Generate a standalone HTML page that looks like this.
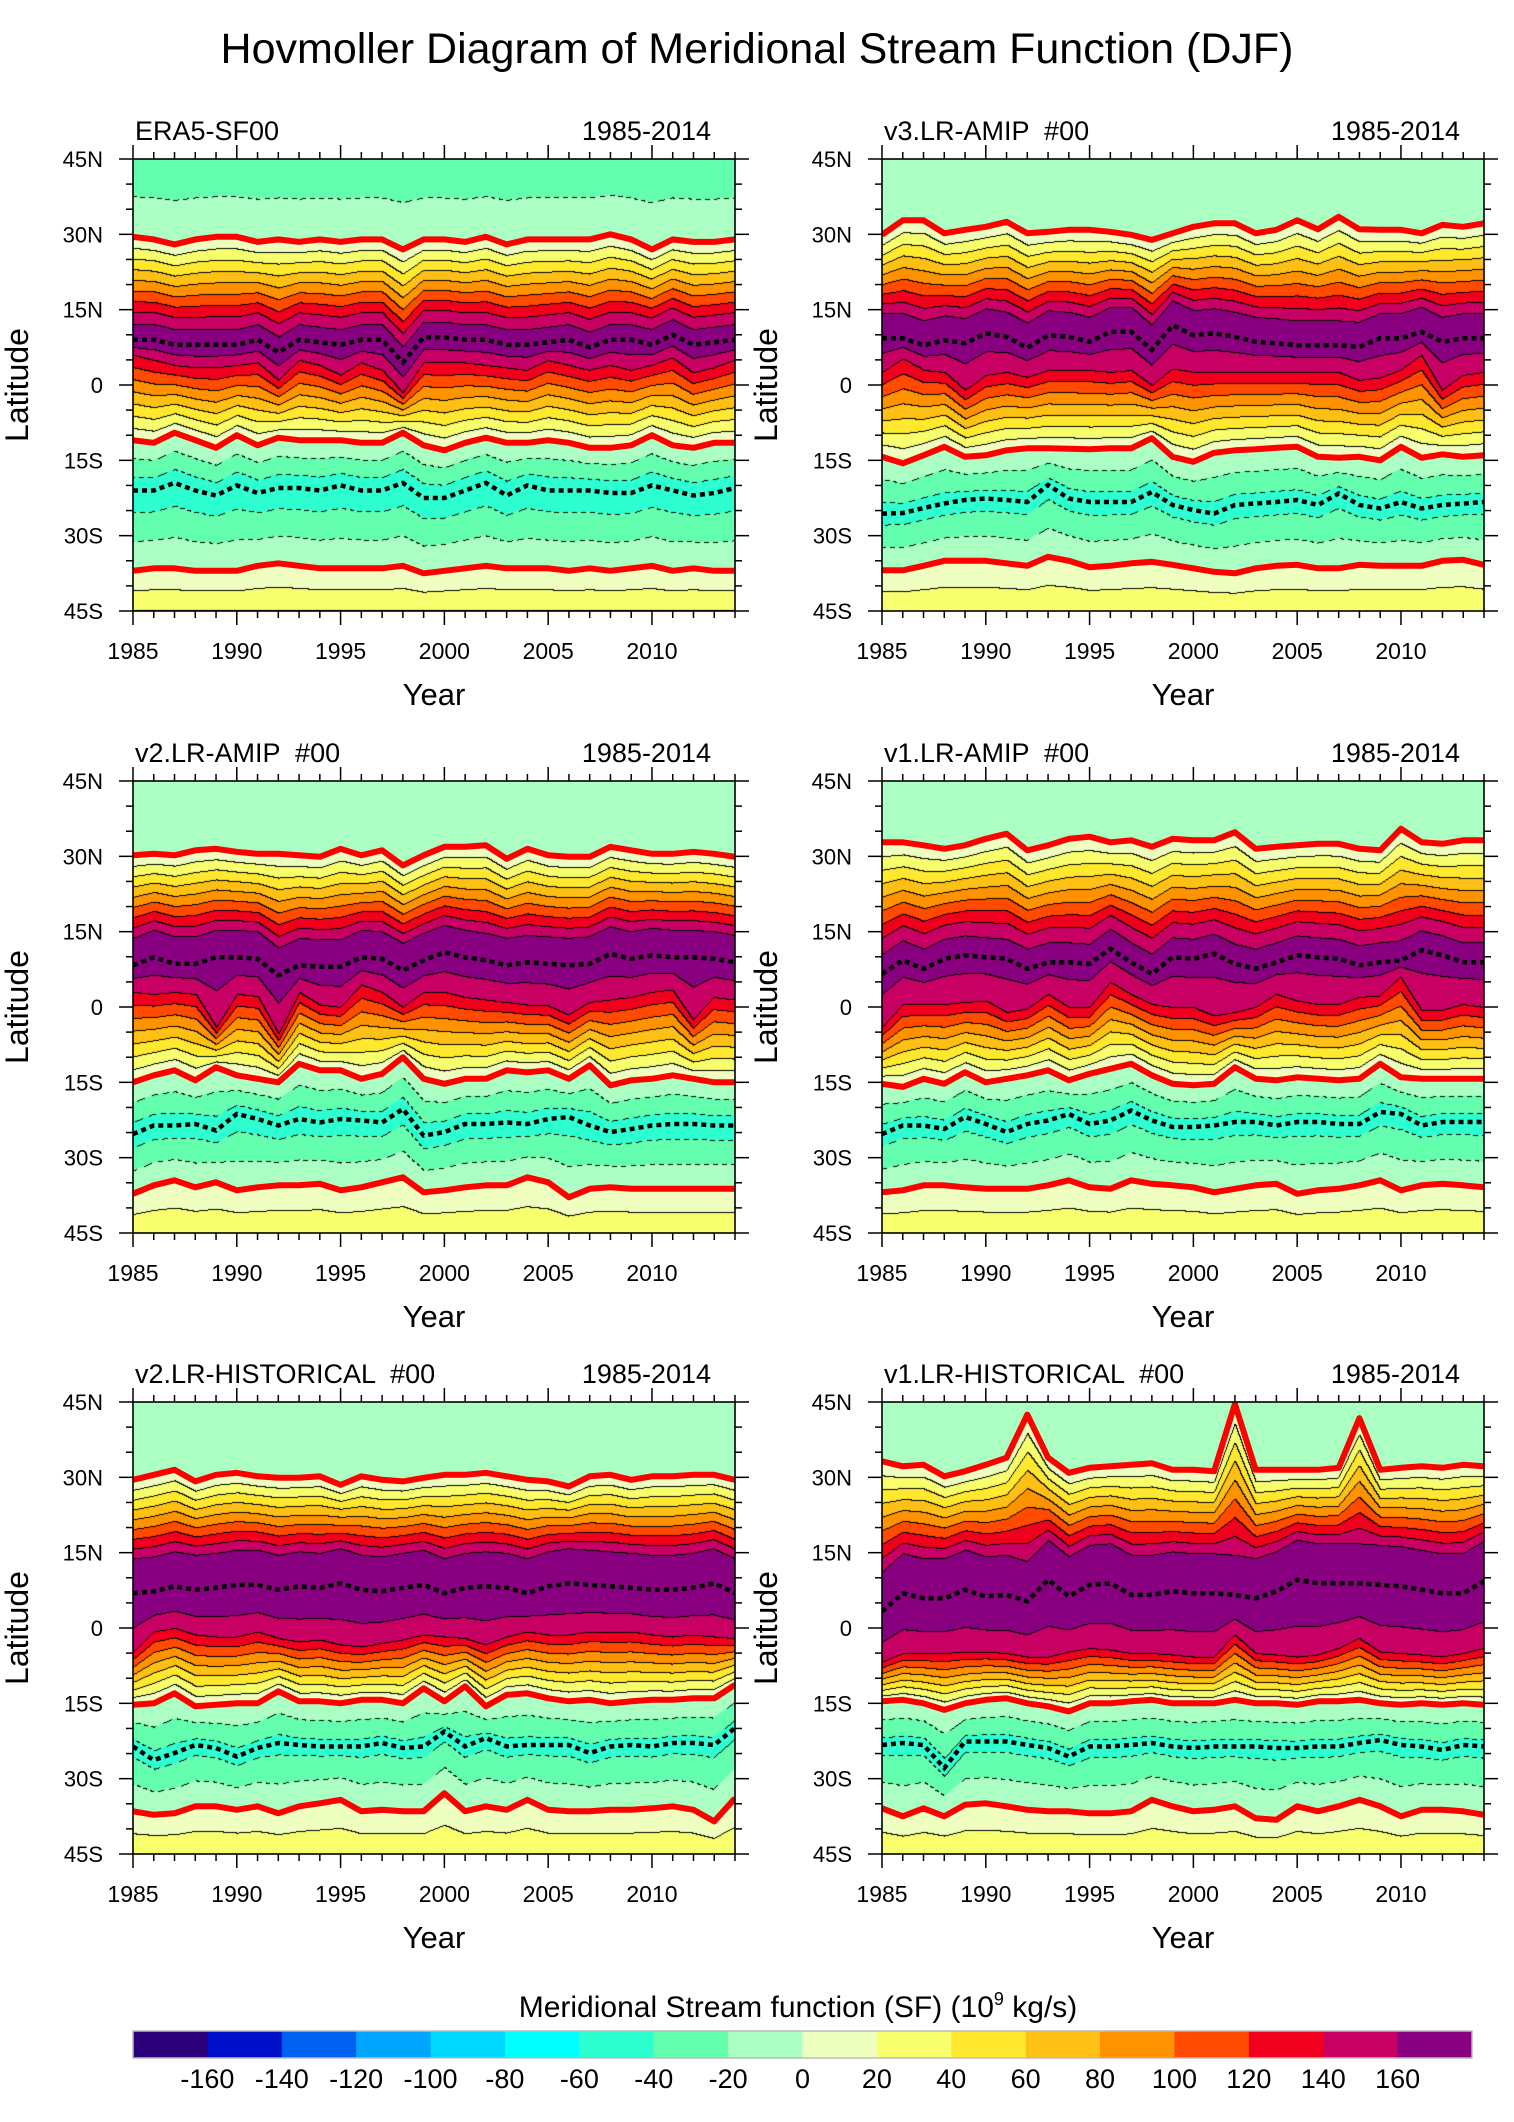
<!DOCTYPE html>
<html><head><meta charset="utf-8">
<style>
html,body{margin:0;padding:0;background:#fff;}
body{width:1514px;height:2122px;position:relative;overflow:hidden;font-family:"Liberation Sans",Arial,sans-serif;}
canvas{position:absolute;}
#ov{position:absolute;left:0;top:0;}
text{white-space:pre;}
</style></head>
<body>
<svg id="ov" width="1514" height="2122" xmlns="http://www.w3.org/2000/svg">
<text x="757" y="63" font-size="43" text-anchor="middle" font-family="Liberation Sans, sans-serif">Hovmoller Diagram of Meridional Stream Function (DJF)</text>
</svg>
<script>
// ---------- data ----------
const YEARS = [1985,1986,1987,1988,1989,1990,1991,1992,1993,1994,1995,1996,1997,1998,1999,2000,2001,2002,2003,2004,2005,2006,2007,2008,2009,2010,2011,2012,2013,2014];
const LEVEL_LABELS = [-160,-140,-120,-100,-80,-60,-40,-20,0,20,40,60,80,100,120,140,160];
const LAT_TICKS = [45,30,15,0,-15,-30,-45];
const LAT_TICK_LABELS = ["45N","30N","15N","0","15S","30S","45S"];
const YEAR_TICK_LABELS = [1985,1990,1995,2000,2005,2010];

// ERA5
const ERA5_NH0 = [29.5,29,28,29,29.5,29.5,28.5,29,28.5,29,28.5,29,29,27,29,29,28.5,29.5,28,29,29,29,29,30,29,27,29,28.5,28.5,29];
const ERA5_PMAX = [9,9,8,8,8,8,9,6.5,9,8.5,8,9,9,4.5,9.5,9.5,9,9,8,8,8.5,9,7.5,9,9,8,10,8,8.5,9];
const ERA5_S140 = [6,5,4,3.5,3.5,4,4.5,1,5,4,2,4.5,3,-1.5,4.5,4.5,4.5,4,3.5,3,5,4,3,4,3,4,5.5,2.5,3.5,5];
const ERA5_SH0 = [-11,-11.5,-9.5,-11,-12.5,-10,-12,-10.5,-11,-11,-11,-11.5,-11.5,-9.5,-12,-13,-11.5,-10.5,-11.5,-11.5,-11,-11.5,-12.5,-12.5,-12,-10,-12,-12.5,-11.5,-11.5];
const ERA5_PMIN = [-21,-21,-19.5,-21,-22,-20,-21.5,-20.5,-20.5,-21,-20,-21,-21,-19.5,-22.5,-22.5,-21,-19.5,-22,-20,-21,-21,-21,-21.5,-21.5,-20,-21,-22,-21.5,-20.5];
const ERA5_S0 = [-37,-36.5,-36.5,-37,-37,-37,-36,-35.5,-36,-36.5,-36.5,-36.5,-36.5,-36,-37.5,-37,-36.5,-36,-36.5,-36.5,-36.5,-37,-36.5,-37,-36.5,-36,-37,-36.5,-37,-37];
// v3 AMIP
const V3A_NH0 = [29.9,32.8,32.8,30.2,30.9,31.5,32.5,30.2,30.5,30.9,30.9,30.5,29.9,28.9,30.2,31.5,32.2,32.2,30.2,30.9,32.8,31,33.5,31,30.9,30.9,30.2,31.9,31.5,32.2];
const V3A_PMAX = [9.3,9.3,7.9,8.9,8.3,10.3,9.6,7.4,9.9,9.6,8.6,10.6,10.6,7,11.9,9.9,10.3,9.6,8.6,8.3,7.9,7.9,7.9,7.6,9.3,9.3,10.6,8.6,9.3,9.3];
const V3A_S140 = [2.6,5.3,3,2.6,-1,2,2.6,1.6,3,3,3,2.6,3,0,3.3,2.6,2.6,2.6,2.6,2.6,2.6,2.6,2.6,1,1.5,3,6,-1,2,2.6];
const V3A_SH0 = [-14.3,-15.6,-14,-12.3,-14.3,-14,-13,-12.6,-12.6,-12.7,-12.8,-12.6,-12.6,-10.6,-14.3,-15.3,-13.5,-13,-12.8,-12.5,-12.3,-14.3,-14.5,-14.3,-15,-12.3,-14.5,-13.8,-14.3,-14];
const V3A_PMIN = [-25.6,-25.5,-24.5,-23.6,-22.9,-22.6,-22.9,-23.3,-19.9,-22.6,-23.3,-23.3,-23.3,-21.3,-23.9,-24.9,-25.6,-23.9,-23.6,-23.3,-22.9,-23.9,-21.6,-23.9,-24.6,-23.3,-24.6,-23.9,-23.6,-23.3];
const V3A_S0 = [-36.9,-36.9,-36,-35,-35,-35,-35.5,-36,-34.2,-35,-36.3,-36,-35.5,-35.2,-35.8,-36.5,-37.2,-37.5,-36.5,-36,-35.8,-36.5,-36.5,-35.8,-36,-36,-36,-35,-34.8,-35.8];
// v2 AMIP
const V2A_NH0 = [30.2,30.5,30.2,31.2,31.5,30.9,30.5,30.5,30.2,29.9,31.5,30.2,31.2,28.2,30.2,31.9,31.9,32.2,29.5,31.5,30.2,29.9,29.9,31.9,31.2,30.5,30.5,30.9,30.5,29.9];
const V2A_PMAX = [8.3,9.9,8.6,8.6,9.9,9.9,9.6,6.3,8.3,8,8,9.9,9.6,7.3,9.3,10.9,9.9,9.3,8.3,8.9,8.6,8.3,8.6,10.6,9.6,10.3,9.9,9.9,9.6,8.9];
const V2A_S140 = [3,2.6,3,2.6,-4,2.6,2.2,-5.3,3,0.5,0,4.5,3,0,3,3,2,1.5,1,0.5,0.3,-1.5,1,1.5,2,3,3.5,-2.5,2,1.5];
const V2A_SH0 = [-15,-13.6,-12.6,-14.6,-12,-13.6,-14.3,-15,-11.3,-12.6,-12.6,-14.3,-13.3,-10,-14.3,-15.3,-14.3,-14.3,-12.6,-13,-12.6,-14.3,-11.6,-15.6,-14.6,-14.3,-13.6,-14.3,-15,-15];
const V2A_PMIN = [-25.3,-23.6,-23.6,-23.3,-24.6,-21.3,-22.3,-23.6,-22.3,-23,-22.3,-22.6,-23,-20.3,-25.6,-24.9,-23.3,-23.3,-23,-23.3,-22.3,-21.9,-23.6,-24.9,-24.3,-23.6,-23.3,-23.3,-23.6,-23.6];
const V2A_S0 = [-37.2,-35.5,-34.5,-35.9,-34.9,-36.5,-35.9,-35.5,-35.5,-35.2,-36.5,-35.9,-34.9,-33.9,-36.9,-36.5,-35.9,-35.5,-35.5,-33.9,-34.9,-37.9,-36.2,-35.9,-36.2,-36.2,-36.2,-36.2,-36.2,-36.2];
// v1 AMIP
const V1A_NH0 = [32.8,32.8,32.2,31.5,32.2,33.5,34.5,31.2,32.2,33.5,33.9,32.8,33.2,31.9,33.5,33.2,33.2,34.8,31.5,31.9,32.2,32.5,32.5,31.5,31.2,35.5,32.8,32.5,33.2,33.2];
const V1A_PMAX = [6.6,9.3,7.6,9.6,10.3,9.9,9.6,7.6,8.9,8.9,8.6,11.6,8.9,6.6,9.9,9.6,10.6,8.6,7.6,8.9,10.3,9.9,9.6,8.3,8.9,9.3,11.3,10.3,8.9,8.9];
const V1A_S140 = [-4,0.6,0.6,0.6,1,1.3,-1,-0.3,2.6,0,0,5,2.6,0.6,0,0,-1.7,-1,0,2.6,1.3,0.6,0.6,2,2.3,6,-0.6,-0.6,0.6,0];
const V1A_SH0 = [-15.3,-15.9,-14.3,-15.3,-13,-15,-14.3,-13.6,-12.6,-14.6,-13.3,-12.3,-11.3,-13.6,-15.3,-15.6,-15.3,-12,-14.3,-14.6,-14,-14.3,-14.6,-14.3,-11.3,-14,-14.3,-14.3,-14.3,-14.3];
const V1A_PMIN = [-25.3,-23.6,-23.6,-24.3,-21.9,-23.3,-24.9,-23.3,-22.6,-21.3,-23.3,-22.6,-20.6,-22.6,-23.9,-23.9,-23.6,-22.9,-22.9,-23.6,-22.9,-22.9,-23.3,-23.3,-20.9,-21.3,-23.6,-22.9,-22.9,-22.9];
const V1A_S0 = [-36.9,-36.5,-35.5,-35.5,-35.9,-36.2,-36.2,-36.2,-35.5,-34.5,-35.9,-36.2,-34.5,-35.2,-35.5,-35.9,-36.9,-36.2,-35.5,-35.2,-37.2,-36.5,-36.2,-35.5,-34.5,-36.5,-35.5,-35.2,-35.5,-35.9];
// v2 HISTORICAL
const V2H_NH0 = [29.5,30.5,31.5,29.2,30.5,30.9,30.2,29.9,29.9,30.2,28.5,30.2,29.5,29.2,29.9,30.5,30.5,30.9,30.2,29.5,29.2,28.2,30.2,30.5,29.5,30.2,30.2,30.5,30.5,29.5];
const V2H_PMAX = [6.9,7.3,8.3,7.6,8,8.6,8.6,7.6,8.3,8,8.9,7.6,7.3,8,8.6,6.9,8,8.3,8,6.9,8.3,8.9,8.6,8.3,8,7.6,7.6,8,8.9,6.9];
const V2H_S140 = [-4.7,-0.7,0,-1.3,-1.7,-1.7,-0.7,-2,-2.7,-2.3,-3.3,-3.7,-3,-2.3,-1.3,-1.7,-2,-3.3,-1.7,-0.7,-1.3,-1.3,-0.7,-0.7,-0.7,-1.3,-1.7,-1.3,-1.7,-2];
const V2H_SH0 = [-15.3,-15,-13,-15.6,-15.3,-15,-15,-12.6,-14.6,-14.6,-15,-14.3,-14.3,-15,-12,-14.6,-11.6,-15.6,-13.3,-13,-14,-14.6,-14.3,-15,-14.6,-14.3,-14.3,-14,-14,-11.3];
const V2H_PMIN = [-23.6,-26.3,-24.9,-23.3,-23.9,-25.6,-23.9,-22.9,-23.3,-23.6,-23.6,-23.6,-22.9,-23.9,-23.6,-20.6,-23.6,-21.9,-23.6,-23.3,-23.3,-23.3,-24.9,-23.6,-23.3,-23.6,-22.9,-22.9,-23.3,-19.9];
const V2H_S0 = [-36.5,-37.2,-36.9,-35.5,-35.5,-36.2,-35.5,-36.9,-35.5,-34.9,-34.2,-36.5,-36.2,-36.5,-36.5,-32.9,-36.5,-35.5,-36.2,-34.2,-36.2,-36.5,-36.5,-36.2,-36.2,-35.9,-35.5,-36.2,-38.5,-33.9];
// v1 HISTORICAL
const V1H_NH0 = [33.2,32.2,32.5,30.2,31.2,32.5,33.9,42.5,33.9,30.9,31.9,32.2,32.5,32.8,31.5,31.5,31.2,44.6,31.5,31.5,31.5,31.5,31.9,41.8,31.5,31.9,32.2,31.9,32.5,32.2];
const V1H_PMAX = [3.3,6.9,5.9,5.9,7.6,6.3,6.6,5.3,9.6,6.3,8.6,8.9,6.6,6.6,7.3,6.9,6.9,6.6,5.9,7.3,9.6,8.9,8.9,8.9,8.6,8.3,7.6,6.9,6.9,9.3];
const V1H_S140 = [-6.7,-5,-5,-5,-4.7,-4.7,-5,-5.7,-5.7,-4.7,-4,-4.3,-5,-5,-5.3,-5.7,-5.7,-1.3,-5,-5.3,-5.7,-5.3,-4,-2,-4.7,-5,-5.3,-5.7,-5,-4];
const V1H_SH0 = [-14.6,-14.3,-15,-16.3,-15,-14.3,-14,-15,-15.6,-16.6,-15,-15,-14.6,-14.3,-15,-15,-15,-14.3,-15,-15,-15.3,-14.6,-14.6,-14.3,-15,-15.3,-15,-15.3,-15,-15.3];
const V1H_PMIN = [-23.3,-22.9,-23.3,-27.9,-22.6,-22.6,-22.6,-23.3,-23.9,-25.6,-23.6,-23.6,-23.3,-22.9,-23.6,-23.9,-23.6,-23.6,-23.6,-23.9,-23.9,-23.6,-23.6,-22.9,-22.3,-23.3,-23.6,-24.3,-23.3,-23.6];
const V1H_S0 = [-35.9,-37.5,-35.9,-37.5,-35.2,-34.9,-35.5,-36.2,-36.5,-36.5,-36.9,-36.9,-36.5,-34.2,-35.5,-36.5,-36.2,-35.5,-37.9,-38.2,-35.5,-36.5,-35.5,-34.2,-35.5,-37.5,-36.2,-36.2,-36.5,-37.2];

const COLORS = ["#2c0078","#0010c8","#0060f0","#00a5ff","#00d8ff","#00ffff","#2dffd0","#64ffae","#abffc3","#efffc0","#f8ff6c","#ffe82e","#ffc015","#ff9200","#ff4a00","#f0001c","#c80064","#880080"];

const PANELS = [
 {key:'era5',title:'ERA5-SF00',col:0,row:0,nh0:ERA5_NH0,pmax:ERA5_PMAX,s140:ERA5_S140,sh0:ERA5_SH0,pmin:ERA5_PMIN,s0:ERA5_S0,vTop:-38,vMax:178,vUp:155,dUp:4,vMin:-55,vBot:40},
 {key:'v3-amip',title:'v3.LR-AMIP  #00',col:1,row:0,nh0:V3A_NH0,pmax:V3A_PMAX,s140:V3A_S140,sh0:V3A_SH0,pmin:V3A_PMIN,s0:V3A_S0,vTop:-10,vMax:175,vUp:160,dUp:5,vMin:-50,vBot:38},
 {key:'v2-amip',title:'v2.LR-AMIP  #00',col:0,row:1,nh0:V2A_NH0,pmax:V2A_PMAX,s140:V2A_S140,sh0:V2A_SH0,pmin:V2A_PMIN,s0:V2A_S0,vTop:-10,vMax:178,vUp:160,dUp:5.5,vMin:-52,vBot:38},
 {key:'v1-amip',title:'v1.LR-AMIP  #00',col:1,row:1,nh0:V1A_NH0,pmax:V1A_PMAX,s140:V1A_S140,sh0:V1A_SH0,pmin:V1A_PMIN,s0:V1A_S0,vTop:-10,vMax:172,vUp:157,dUp:5,vMin:-50,vBot:38},
 {key:'v2-historical',title:'v2.LR-HISTORICAL  #00',col:0,row:2,nh0:V2H_NH0,pmax:V2H_PMAX,s140:V2H_S140,sh0:V2H_SH0,pmin:V2H_PMIN,s0:V2H_S0,vTop:-10,vMax:188,vUp:160,dUp:7,vMin:-48,vBot:38},
 {key:'v1-historical',title:'v1.LR-HISTORICAL  #00',col:1,row:2,nh0:V1H_NH0,pmax:V1H_PMAX,s140:V1H_S140,sh0:V1H_SH0,pmin:V1H_PMIN,s0:V1H_S0,vTop:-10,vMax:190,vUp:160,dUp:8,vMin:-48,vBot:38}
];

// ---------- layout ----------
const PW=602, PH=452;
const COLX=[133,882], ROWY=[159,781,1402];
const NS='http://www.w3.org/2000/svg';
const svg=document.getElementById('ov');
function mk(tag,attrs,parent){const e=document.createElementNS(NS,tag);for(const k in attrs)e.setAttribute(k,attrs[k]);(parent||svg).appendChild(e);return e;}

function interpArr(arr,t){const i=Math.min(Math.floor(t),arr.length-2);const f=t-i;return arr[i]*(1-f)+arr[i+1]*f;}

PANELS.forEach((p,pi)=>{
  const ox=COLX[p.col], oy=ROWY[p.row];
  const xS=i=>ox+i/(YEARS.length-1)*PW;
  const yS=lat=>oy+(45-lat)/90*PH;
  const cv=document.createElement('canvas');
  cv.width=PW;cv.height=PH;cv.style.left=ox+'px';cv.style.top=oy+'px';
  
  
  document.body.insertBefore(cv,svg);
  const ctx=cv.getContext('2d');const img=ctx.createImageData(PW,PH);const d=img.data;
  const band=new Int8Array(PW*PH);
  const rgb=COLORS.map(c=>[parseInt(c.substr(1,2),16),parseInt(c.substr(3,2),16),parseInt(c.substr(5,2),16)]);
  for(let x=0;x<PW;x++){
    const t=x/(PW-1)*(YEARS.length-1);
    const pm=interpArr(p.pmax,t);
    const A=[[45,p.vTop],[interpArr(p.nh0,t),0],[pm+p.dUp,p.vUp],[pm,p.vMax],[interpArr(p.s140,t),140],[interpArr(p.sh0,t),0],[interpArr(p.pmin,t),p.vMin],[interpArr(p.s0,t),0],[-45,p.vBot]];
    for(let k=1;k<A.length-1;k++){ if(A[k][0]>A[k-1][0]-0.2)A[k][0]=A[k-1][0]-0.2; }
    let k=0;
    for(let y=0;y<PH;y++){
      const lat=45-y/(PH-1)*90;
      while(k<A.length-2 && lat<A[k+1][0])k++;
      const a=A[k],b=A[k+1];
      let f=(a[0]-lat)/(a[0]-b[0]); if(f<0)f=0; if(f>1)f=1;
      const v=a[1]+(b[1]-a[1])*f;
      let bi=Math.floor(v/20)+9; if(bi<0)bi=0; if(bi>17)bi=17;
      band[y*PW+x]=bi;
    }
  }
  for(let y=0;y<PH;y++)for(let x=0;x<PW;x++){
    const i=y*PW+x;let c=rgb[band[i]];
    let nb=-1;
    if(y>0&&band[i-PW]!==band[i])nb=band[i-PW];
    else if(x>0&&band[i-1]!==band[i])nb=band[i-1];
    if(nb>=0){
      const lvl=(Math.max(nb,band[i])-9)*20;
      if(lvl>0)c=[0,0,0];
      else if(lvl<0 && ((x+y)%9)<5)c=[0,0,0];
    }
    d[i*4]=c[0];d[i*4+1]=c[1];d[i*4+2]=c[2];d[i*4+3]=255;
  }
  ctx.putImageData(img,0,0);

  const cp=mk('clipPath',{id:'clip'+pi});
  mk('rect',{x:ox,y:oy,width:PW,height:PH},cp);
  const g=mk('g',{'clip-path':'url(#clip'+pi+')'});
  
  
  const pts=arr=>arr.map((v,i)=>xS(i).toFixed(1)+','+yS(v).toFixed(1)).join(' ');
  [['nh0','nh-zero-contour'],['sh0','tropical-zero-contour'],['s0','sh-zero-contour']].forEach(([k,n])=>{
    const l=mk('polyline',{points:pts(p[k]),fill:'none',stroke:'#ff0000','stroke-width':6,'stroke-linejoin':'round'},g);
    
    
  });
  [['pmax','max-streamfunction-line'],['pmin','min-streamfunction-line']].forEach(([k,n])=>{
    const l=mk('polyline',{points:pts(p[k]),fill:'none',stroke:'#000','stroke-width':4.5,'stroke-dasharray':'5 4'},g);
    
    
  });
  const fr=mk('rect',{x:ox,y:oy,width:PW,height:PH,fill:'none',stroke:'#000','stroke-width':1.6});
  
  
  const tg=mk('g',{stroke:'#000','stroke-width':1.5});
  
  
  YEARS.forEach((yr,i)=>{
    const L=(yr%5===0)?14:7, x=xS(i);
    mk('line',{x1:x,y1:oy+PH,x2:x,y2:oy+PH+L},tg);
    mk('line',{x1:x,y1:oy,x2:x,y2:oy-L},tg);
  });
  for(let lat=-45;lat<=45;lat+=5){
    const L=(lat%15===0)?14:7, y=yS(lat);
    mk('line',{x1:ox,y1:y,x2:ox-L,y2:y},tg);
    mk('line',{x1:ox+PW,y1:y,x2:ox+PW+L,y2:y},tg);
  }
  LAT_TICKS.forEach((lat,i)=>{
    const t=mk('text',{x:ox-30,y:yS(lat)+8,'font-size':22,'text-anchor':'end'});
    t.textContent=LAT_TICK_LABELS[i];
    
    
  });
  YEAR_TICK_LABELS.forEach(yr=>{
    const t=mk('text',{x:xS(YEARS.indexOf(yr)),y:oy+PH+48,'font-size':23,'text-anchor':'middle'});
    t.textContent=yr;
    
    
  });
  const xt=mk('text',{x:ox+PW/2,y:oy+PH+94,'font-size':31,'text-anchor':'middle'});
  xt.textContent='Year';
  
  
  const cx=ox-105, cy=oy+PH/2;
  const yt=mk('text',{x:cx,y:cy,'font-size':32,'text-anchor':'middle',transform:'rotate(-90 '+cx+' '+cy+')'});
  yt.textContent='Latitude';
  
  
  const lt=mk('text',{x:ox+2,y:oy-19,'font-size':27});
  lt.textContent=p.title;
  
  
  const rt=mk('text',{x:ox+578,y:oy-19,'font-size':27,'text-anchor':'end'});
  rt.textContent='1985-2014';
  
  
});

// ---------- colorbar ----------
const CBX=133, CBW=1339, CBY=2031, CBH=27;
const cbx=i=>CBX+i*CBW/COLORS.length;
const ct=mk('text',{x:798,y:2017,'font-size':30,'text-anchor':'middle'});


ct.appendChild(document.createTextNode('Meridional Stream function (SF) (10'));
const sup=mk('tspan',{dy:-12,'font-size':18},ct);sup.textContent='9';
const rest=mk('tspan',{dy:12},ct);rest.textContent=' kg/s)';
COLORS.forEach((c,i)=>{
  const r=mk('rect',{x:cbx(i),y:CBY,width:CBW/COLORS.length+0.5,height:CBH,fill:c});
  
  
});
const cf=mk('rect',{x:CBX,y:CBY,width:CBW,height:CBH,fill:'none',stroke:'#bbb','stroke-width':1.5});


LEVEL_LABELS.forEach((v,i)=>{
  const t=mk('text',{x:cbx(i+1),y:2088,'font-size':27,'text-anchor':'middle'});
  t.textContent=v;
  
  
});
</script>
</body></html>
